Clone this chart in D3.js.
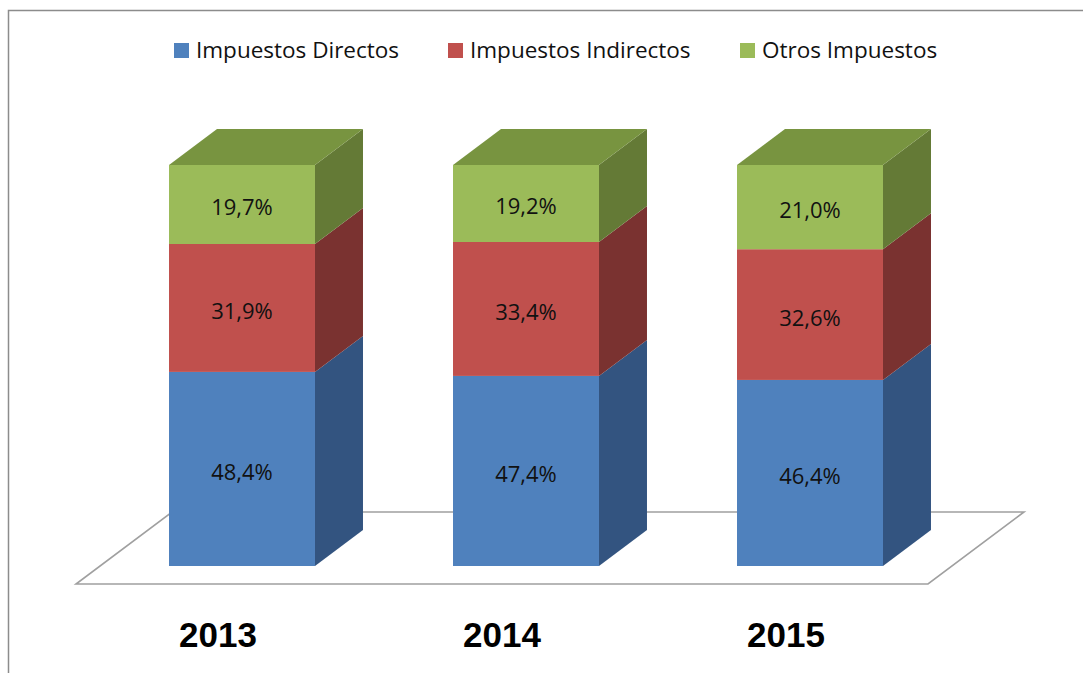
<!DOCTYPE html>
<html>
<head>
<meta charset="utf-8">
<script src="https://cdn.jsdelivr.net/npm/d3@7"></script>
<style>
  body { margin: 0; background: #fff; }
  svg { display: block; }
</style>
</head>
<body>
<div id="chart"></div>
<script>
// datos del gráfico
const years = ["2013", "2014", "2015"];
const seriesNames = ["Impuestos Directos", "Impuestos Indirectos", "Otros Impuestos"];
const directos = [48.4, 47.4, 46.4];
const indirectos = [31.9, 33.4, 32.6];
const otros = [19.7, 19.2, 21.0];

const seriesValues = [directos, indirectos, otros];
const frontColors = ["#4f81bd", "#c0504d", "#9bbb59"];
const sideColors = ["#335480", "#7a3230", "#647a36"];
const topColors = ["#3f6797", "#9a403e", "#789440"];

const W = 1083, H = 673;
const svg = d3.select("#chart").append("svg")
    .attr("width", W)
    .attr("height", H);

// marco del gráfico
svg.append("rect")
    .attr("x", 8.5).attr("y", 10.5)
    .attr("width", W + 20).attr("height", H + 20)
    .attr("fill", "none")
    .attr("stroke", "#8c8c8c")
    .attr("stroke-width", 1.5);

// plano frontal del suelo
const floorFront = 584;
const floorDx = 96, floorDy = -72;
const x = d3.scaleBand()
    .domain(years)
    .range([76, 928])
    .paddingInner(0.486)
    .paddingOuter(0.243);

// profundidad de las barras (la mitad del suelo, centradas)
const barOffX = floorDx / 4, barOffY = floorDy / 4;
const depthX = floorDx / 2, depthY = floorDy / 2;

const y = d3.scaleLinear().domain([0, 100]).range([floorFront + barOffY, 165]);

// suelo
const fl = 76, fr = 928;
svg.append("path")
    .attr("d", `M${fl},${floorFront} L${fr},${floorFront} L${fr + floorDx},${floorFront + floorDy} L${fl + floorDx},${floorFront + floorDy} Z`)
    .attr("fill", "none")
    .attr("stroke", "#a0a0a0")
    .attr("stroke-width", 1.6);

// apilar
const stacked = years.map((yr, i) => {
    let acc = 0;
    return seriesValues.map((vals, s) => {
        const start = acc;
        acc += vals[i];
        return { year: yr, s, start, end: acc, value: vals[i] };
    });
});

const bars = svg.selectAll(".bar")
    .data(stacked)
    .join("g")
    .attr("class", "bar");

bars.each(function (segs) {
    const g = d3.select(this);
    const x0 = x(segs[0].year) + barOffX;
    const x1 = x0 + x.bandwidth();

    // caras laterales
    segs.forEach((d) => {
        const yb = y(d.start), yt = y(d.end);
        g.append("path")
            .attr("d", `M${x1},${yb} L${x1 + depthX},${yb + depthY} L${x1 + depthX},${yt + depthY} L${x1},${yt} Z`)
            .attr("fill", sideColors[d.s]);
    });

    // caras frontales
    segs.forEach((d) => {
        const yb = y(d.start), yt = y(d.end);
        g.append("rect")
            .attr("x", x0)
            .attr("y", yt)
            .attr("width", x1 - x0)
            .attr("height", yb - yt)
            .attr("fill", frontColors[d.s]);
    });

    // cara superior
    const last = segs[segs.length - 1];
    const yt = y(last.end);
    g.append("path")
        .attr("d", `M${x0},${yt} L${x1},${yt} L${x1 + depthX},${yt + depthY} L${x0 + depthX},${yt + depthY} Z`)
        .attr("fill", topColors[last.s]);

    // etiquetas
    segs.forEach((d) => {
        g.append("text")
            .attr("x", (x0 + x1) / 2)
            .attr("y", (y(d.start) + y(d.end)) / 2 + 11)
            .attr("text-anchor", "middle")
            .attr("fill", "#111")
            .style("font-family", "'Open Sans', sans-serif")
            .style("font-size", "22px")
            .text(d.value.toFixed(1).replace(".", ",") + "%");
    });
});

// etiquetas de años
svg.selectAll(".year")
    .data(years)
    .join("text")
    .attr("class", "year")
    .attr("x", (d) => x(d) + x.bandwidth() / 2)
    .attr("y", 647)
    .attr("text-anchor", "middle")
    .attr("fill", "#000")
    .style("font-family", "'Liberation Sans', Arial, sans-serif")
    .style("font-weight", "bold")
    .style("font-size", "35px")
    .text((d) => d);

// leyenda
const legendX = [174, 448, 740];
const legend = svg.selectAll(".legend")
    .data(seriesNames)
    .join("g")
    .attr("class", "legend")
    .attr("transform", (d, i) => `translate(${legendX[i]}, 43)`);

legend.append("rect")
    .attr("width", 15)
    .attr("height", 15)
    .attr("fill", (d, i) => frontColors[i]);

legend.append("text")
    .attr("x", 22)
    .attr("y", 15)
    .attr("fill", "#111")
    .style("font-family", "'Open Sans', sans-serif")
    .style("font-size", "22.5px")
    .text((d) => d);
</script>
</body>
</html>
